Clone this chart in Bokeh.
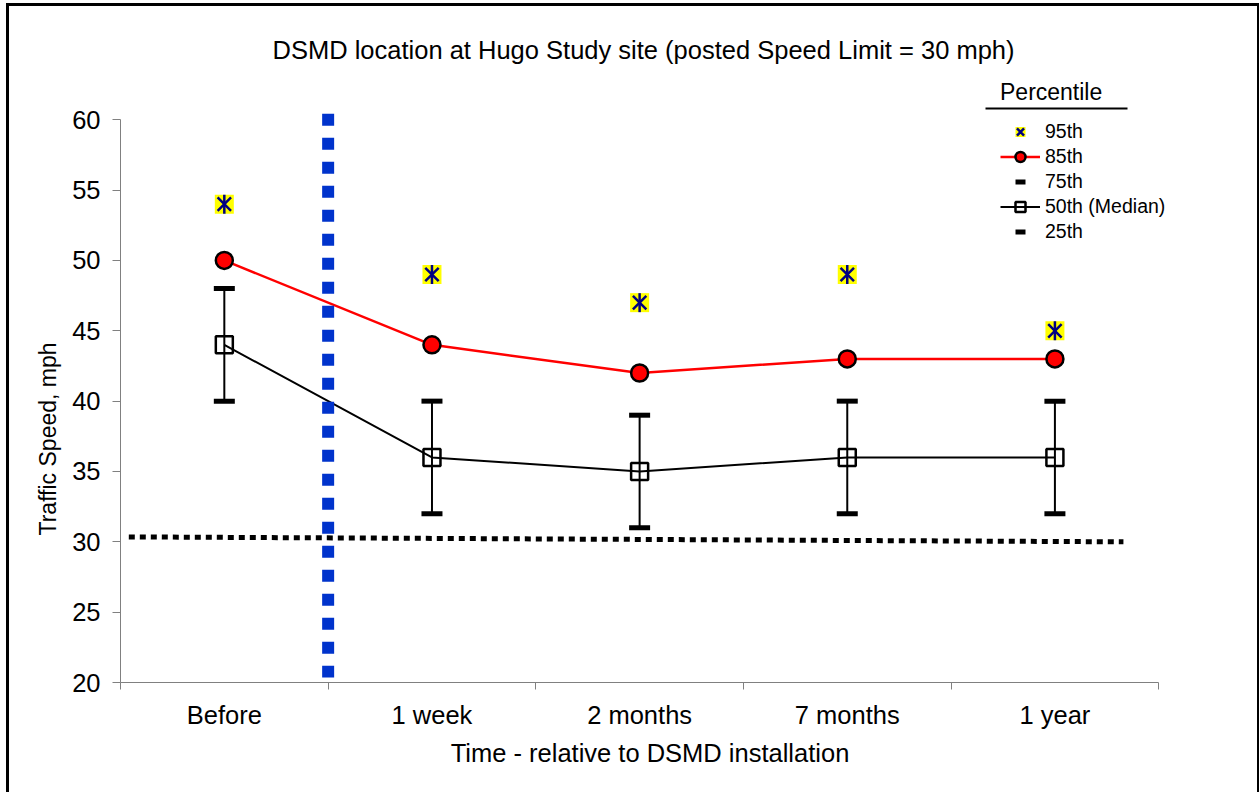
import math
from bokeh.plotting import figure
from bokeh.models import (Range1d, FixedTicker, Legend, LegendItem, Title,
                          BoxAnnotation, ColumnDataSource)
from bokeh.embed import file_html
from bokeh.resources import INLINE

# ---------------- data ----------------
categories = ["Before", "1 week", "2 months", "7 months", "1 year"]
p95 = [54, 49, 47, 49, 45]
p85 = [50, 44, 42, 43, 43]
p75 = [48, 40, 39, 40, 40]
p50 = [44, 36, 35, 36, 36]
p25 = [40, 32, 31, 32, 32]
y_ticks = [20, 25, 30, 35, 40, 45, 50, 55, 60]

# posted speed limit reference line (hand-drawn, slightly tilted)
limit_x = [0.04, 4.83]
limit_y = [30.35, 30.0]
# DSMD installation marker (between "Before" and "1 week")
install_x = [1.0, 1.0]
install_y = [60.43, 20.36]

xpos = [i + 0.5 for i in range(len(categories))]
boundaries = list(range(len(categories) + 1))

FONT = "Liberation Sans"

src = ColumnDataSource(dict(x=xpos, p95=p95, p85=p85, p75=p75, p50=p50, p25=p25))

p = figure(width=1248, height=789, output_backend="svg", toolbar_location=None,
           x_range=Range1d(0, 5.1), y_range=Range1d(20, 64),
           min_border_left=111, min_border_right=78, min_border_top=57,
           min_border_bottom=113,
           title="DSMD location at Hugo Study site (posted Speed Limit = 30 mph)")
p.margin = (6, 0, 0, 9)
p.styles = {"box-shadow": "-3px -3px 0 0 black, 3px -3px 0 0 black"}
p.outline_line_color = None
p.xgrid.visible = False
p.ygrid.visible = False
p.background_fill_color = "white"
p.border_fill_color = "white"

p.title.text_font = FONT
p.title.text_font_size = "25.5px"
p.title.text_font_style = "normal"
p.title.text_color = "black"
p.title.align = "left"
p.title.offset = 152
p.title.standoff = 0

# x axis
xa = p.xaxis[0]
xa.ticker = FixedTicker(ticks=xpos, minor_ticks=boundaries)
xa.major_label_overrides = {x: c for x, c in zip(xpos, categories)}
xa.bounds = (0, len(categories))
xa.axis_line_color = "#808080"
xa.major_tick_line_color = None
xa.major_tick_out = 0
xa.major_tick_in = 0
xa.minor_tick_line_color = "#808080"
xa.minor_tick_out = 7
xa.minor_tick_in = 0
xa.major_label_standoff = 11
xa.major_label_text_font = FONT
xa.major_label_text_font_size = "25.5px"
xa.major_label_text_color = "black"
xa.axis_label = "Time - relative to DSMD installation"
xa.axis_label_text_font = FONT
xa.axis_label_text_font_size = "25.5px"
xa.axis_label_text_font_style = "normal"
xa.axis_label_text_color = "black"
xa.axis_label_standoff = 7

# y axis
ya = p.yaxis[0]
ya.ticker = FixedTicker(ticks=y_ticks)
ya.bounds = (20, 60)
ya.axis_line_color = "#808080"
ya.major_tick_line_color = "#808080"
ya.major_tick_out = 8
ya.major_tick_in = 0
ya.minor_tick_line_color = None
ya.major_label_standoff = 12
ya.major_label_text_font = FONT
ya.major_label_text_font_size = "25.5px"
ya.major_label_text_color = "black"

ytitle = Title(text="Traffic Speed, mph", align="left", offset=147,
               standoff=17, text_font=FONT, text_font_size="23px",
               text_font_style="normal", text_color="black")
p.add_layout(ytitle, "left")

# ---------------- glyphs ----------------
p.segment(x0="x", y0="p25", x1="x", y1="p75", source=src,
          line_color="black", line_width=2)
r75 = p.scatter("x", "p75", source=src, marker="dash", size=21,
                line_color="black", line_width=5)
r25 = p.scatter("x", "p25", source=src, marker="dash", size=21,
                line_color="black", line_width=5)
r50l = p.line("x", "p50", source=src, line_color="black", line_width=2)
r50m = p.scatter("x", "p50", source=src, marker="square", size=17,
                 fill_color=None, line_color="black", line_width=2.5)
r85l = p.line("x", "p85", source=src, line_color="#FF0000", line_width=2.5)
r85m = p.scatter("x", "p85", source=src, marker="circle", size=17,
                 fill_color="#FF0000", line_color="black", line_width=2.5)
r95s = p.scatter("x", "p95", source=src, marker="square", size=19,
                 fill_color="#FFFF00", line_color=None)
r95x = p.scatter("x", "p95", source=src, marker="x", size=19,
                 line_color="#000080", line_width=2.5)
r95v = p.scatter("x", "p95", source=src, marker="dash", angle=math.pi / 2,
                 size=19, line_color="#000080", line_width=2.5)

p.line(limit_x, limit_y, line_color="black", line_width=5, line_dash="6 5")
p.line(install_x, install_y, line_color="#0033CC", line_width=12,
       line_dash="12 12")

# ---------------- legend ----------------
legend = Legend(items=[
    LegendItem(label="95th", renderers=[r95s, r95x]),
    LegendItem(label="85th", renderers=[r85l, r85m]),
    LegendItem(label="75th", renderers=[r75]),
    LegendItem(label="50th (Median)", renderers=[r50l, r50m]),
    LegendItem(label="25th", renderers=[r25]),
], location=(880, 438), title="Percentile")
legend.title_text_font = FONT
legend.title_text_font_size = "23px"
legend.title_text_font_style = "normal"
legend.title_text_color = "black"
legend.title_standoff = 13
legend.label_text_font = FONT
legend.label_text_font_size = "19.5px"
legend.label_text_color = "black"
legend.label_standoff = 5
legend.label_height = 25
legend.glyph_height = 25
legend.glyph_width = 40
legend.spacing = 0
legend.padding = 0
legend.margin = 0
legend.border_line_color = None
legend.background_fill_alpha = 0
p.add_layout(legend)

# underline below the legend title
p.add_layout(BoxAnnotation(left=865, right=1007, bottom=573, top=575,
                           left_units="screen", right_units="screen",
                           top_units="screen", bottom_units="screen",
                           fill_color="black", fill_alpha=1, line_color=None))

open("out.html", "w").write(file_html(p, INLINE))
